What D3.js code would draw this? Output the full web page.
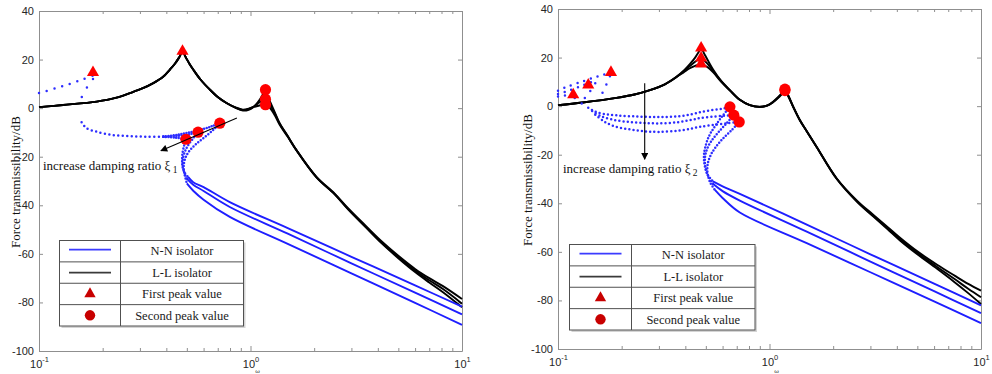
<!DOCTYPE html>
<html><head><meta charset="utf-8">
<script src="https://cdn.jsdelivr.net/npm/d3@7"></script>
<style>html,body{margin:0;padding:0;background:#fff;}svg{display:block;}</style>
</head><body>
<svg id="c" width="992" height="374"></svg>
<script>
// ---------------- DATA ----------------
const yTicks = [40,20,0,-20,-40,-60,-80,-100];
const xMajor = [0.1,1,10];
const xExp = ["-1","0","1"];
const xMinor = [0.2,0.3,0.4,0.5,0.6,0.7,0.8,0.9,2,3,4,5,6,7,8,9];
const legendLabels = ["N-N isolator","L-L isolator","First peak value","Second peak value"];
const yTitle = "Force transmissibility/dB";
const xTitle = "ω";

// Left panel (varying ξ1) — L-L isolator (black)
const leftBlackA = [[0.1,0.4],[0.13,1.3],[0.1875,2.7],[0.23,4.2],[0.269,6.2],[0.31,8.2],[0.347,10.3],[0.385,12.8],[0.416,15.9],[0.44,18.4],[0.46,20.9],[0.477,23.2],[0.495,20.8],[0.515,18.2],[0.536,15.9],[0.58,11.8],[0.643,7.6],[0.7,4.6],[0.77,2.1],[0.85,0.1],[0.92,-1.0],[0.98,-0.7],[1.03,0.4],[1.08,2.3],[1.13,4.8],[1.165,7.2],[1.177,7.6],[1.2,5.5],[1.233,3.0],[1.3,-1.5],[1.374,-6.2],[1.5,-11.5],[1.65,-17.3],[2.05,-28.5],[2.5,-35.5],[2.9,-41.8],[3.5,-49.0],[4.15,-55.5],[5,-61.8],[6,-67.5],[7,-71.8],[8.13,-75.8],[10,-82.0]];
const leftBlackB = [[0.1,0.4],[0.13,1.3],[0.1875,2.7],[0.23,4.2],[0.269,6.2],[0.31,8.2],[0.347,10.3],[0.385,12.8],[0.416,15.9],[0.44,18.4],[0.46,20.9],[0.477,23.2],[0.495,20.8],[0.515,18.2],[0.536,15.9],[0.58,11.8],[0.643,7.6],[0.7,4.6],[0.77,2.1],[0.85,0.2],[0.92,-0.8],[0.98,-0.4],[1.03,0.5],[1.08,1.8],[1.13,3.0],[1.177,3.7],[1.2,3.0],[1.233,1.6],[1.3,-2.0],[1.374,-6.4],[1.5,-11.6],[1.65,-17.3],[2.05,-28.4],[2.5,-35.4],[2.9,-41.6],[3.5,-48.8],[4.15,-55.2],[5,-61.4],[6,-66.9],[7,-70.9],[8.13,-74.5],[10,-80.5]];
const leftBlackC = [[0.1,0.4],[0.13,1.3],[0.1875,2.7],[0.23,4.2],[0.269,6.2],[0.31,8.2],[0.347,10.3],[0.385,12.8],[0.416,15.9],[0.44,18.4],[0.46,20.9],[0.477,23.2],[0.495,20.8],[0.515,18.2],[0.536,15.9],[0.58,11.8],[0.643,7.6],[0.7,4.6],[0.77,2.1],[0.85,0.3],[0.92,-0.6],[0.98,-0.2],[1.03,0.4],[1.08,0.9],[1.13,1.3],[1.177,1.4],[1.2,1.1],[1.233,0.2],[1.3,-2.8],[1.374,-6.8],[1.5,-11.8],[1.65,-17.4],[2.05,-28.3],[2.5,-35.2],[2.9,-41.3],[3.5,-48.4],[4.15,-54.7],[5,-60.8],[6,-66.2],[7,-70.0],[8.13,-73.3],[10,-78.6]];
// Left panel — N-N isolator (blue)
const leftBlueUpper = [[0.1,6.2],[0.12,8.2],[0.14,10.0],[0.16,11.8],[0.18,13.4]];
const leftBlueJump = [[0.18,12.0],[0.169,8.7],[0.159,4.4]];
const leftBlueLower = [[0.159,-5.8],[0.168,-8.3],[0.1875,-9.7],[0.224,-11.1],[0.269,-11.5],[0.323,-11.8],[0.387,-11.8]];
const leftBlueRise1 = [[0.387,-11.8],[0.44,-12.1],[0.495,-12.8]];
const leftBlueRise2 = [[0.387,-11.8],[0.45,-11.4],[0.51,-10.8],[0.565,-9.9]];
const leftBlueRise3 = [[0.387,-11.7],[0.45,-11.0],[0.52,-9.9],[0.6,-8.5],[0.66,-7.4],[0.716,-6.2]];
const leftBlueReturn1 = [[0.495,-12.8],[0.485,-15.5],[0.477,-18.5],[0.475,-21.5],[0.478,-24.5],[0.49,-26.8],[0.507,-28.3]];
const leftBlueReturn2 = [[0.565,-9.9],[0.535,-12.5],[0.505,-15.5],[0.487,-18.5],[0.478,-21.5],[0.48,-24.5],[0.488,-27.0],[0.5,-29.0]];
const leftBlueReturn3 = [[0.716,-6.2],[0.67,-8.8],[0.61,-11.8],[0.55,-15.0],[0.51,-18.0],[0.49,-21.0],[0.483,-24.0],[0.487,-27.0],[0.5,-31.0]];
const leftBlueTail1 = [[0.507,-28.3],[0.536,-30.5],[0.6,-32.5],[0.798,-38.7],[1.5,-49.4],[3,-61.2],[6,-73.0],[10,-81.7]];
const leftBlueTail2 = [[0.5,-29.0],[0.536,-31.5],[0.6,-34.1],[0.798,-40.7],[1.5,-51.7],[3,-63.9],[6,-76.0],[10,-84.9]];
const leftBlueTail3 = [[0.5,-31.0],[0.536,-34.0],[0.6,-37.7],[0.798,-44.8],[1.5,-55.9],[3,-68.0],[6,-80.2],[10,-89.2]];
const leftFirstPeaks = [[0.18,14.7],[0.477,23.4]];
const leftSecondPeaks = [[0.495,-12.8],[0.565,-9.9],[0.716,-6.2],[1.177,7.6],[1.177,3.7],[1.177,1.4]];
const leftArrow = [[0.862,-4.1],[0.377,-17.5]];
const leftNote = {f:0.1044, db:-25.3, text:"increase damping ratio ξ", sub:"1"};

// Right panel (varying ξ2) — L-L isolator (black)
const rightBlackA = [[0.1,0.4],[0.131,1.5],[0.189,3.4],[0.23,4.8],[0.272,6.6],[0.32,9.0],[0.363,12.1],[0.395,14.8],[0.42,17.3],[0.445,20.0],[0.462,22.2],[0.475,23.9],[0.49,21.8],[0.51,19.0],[0.542,15.0],[0.59,10.5],[0.65,6.6],[0.724,2.6],[0.807,0.4],[0.9,-0.4],[0.98,0.3],[1.04,1.8],[1.1,3.8],[1.15,5.6],[1.183,6.9],[1.226,4.5],[1.3,-0.5],[1.393,-5.8],[1.5,-10.3],[1.671,-16.8],[2.08,-30.0],[2.6,-39.5],[3.1,-45.5],[3.6,-50.5],[4.14,-55.3],[5,-61.0],[6.2,-67.0],[7.5,-72.5],[8.7,-77.0],[10,-81.5]];
const rightBlackB = [[0.1,0.4],[0.131,1.5],[0.189,3.4],[0.23,4.8],[0.272,6.6],[0.32,9.0],[0.363,12.0],[0.395,14.5],[0.42,16.5],[0.445,18.3],[0.462,19.2],[0.475,19.6],[0.49,18.9],[0.51,17.4],[0.542,14.4],[0.59,10.3],[0.65,6.5],[0.724,2.6],[0.807,0.4],[0.9,-0.3],[0.98,0.3],[1.04,1.7],[1.1,3.6],[1.15,5.4],[1.183,6.6],[1.226,4.3],[1.3,-0.6],[1.393,-5.8],[1.5,-10.3],[1.671,-16.8],[2.08,-29.9],[2.6,-39.3],[3.1,-45.2],[3.6,-50.1],[4.14,-54.8],[5,-60.4],[6.2,-66.2],[7.5,-71.2],[8.7,-75.2],[10,-78.7]];
const rightBlackC = [[0.1,0.4],[0.131,1.5],[0.189,3.4],[0.23,4.8],[0.272,6.6],[0.32,9.0],[0.363,11.9],[0.395,14.1],[0.42,15.6],[0.445,16.6],[0.462,17.1],[0.475,17.2],[0.49,16.9],[0.51,16.0],[0.542,13.9],[0.59,10.1],[0.65,6.4],[0.724,2.6],[0.807,0.4],[0.9,-0.2],[0.98,0.3],[1.04,1.6],[1.1,3.4],[1.15,5.2],[1.183,6.3],[1.226,4.1],[1.3,-0.7],[1.393,-5.9],[1.5,-10.3],[1.671,-16.8],[2.08,-29.8],[2.6,-39.0],[3.1,-44.8],[3.6,-49.6],[4.14,-54.2],[5,-59.8],[6.2,-65.3],[7.5,-69.8],[8.7,-73.2],[10,-76.0]];
// Right panel — N-N isolator (blue)
const rightBlueUpperA = [[0.1,6.3],[0.108,7.7],[0.129,10.0],[0.152,12.1],[0.168,13.2],[0.178,13.8]];
const rightBlueUpperB = [[0.1,5.0],[0.108,5.9],[0.129,8.3],[0.152,10.8]];
const rightBlueUpperC = [[0.1,4.0],[0.108,4.4],[0.118,4.6]];
const rightBlueJumpA = [[0.176,12.3],[0.169,8.7],[0.159,3.9]];
const rightBlueJumpB = [[0.15,9.4],[0.14,5.4],[0.129,1.8]];
const rightBlueJumpC = [[0.12,3.4],[0.129,1.2],[0.139,-0.7]];
const rightBlueLowerA = [[0.139,-0.7],[0.15,-2.2],[0.165,-3.2],[0.19,-3.8],[0.24,-4.3],[0.3,-4.5],[0.37,-4.2],[0.43,-3.3],[0.47,-2.5],[0.53,-1.7],[0.6,-1.0],[0.65,-0.3]];
const rightBlueLowerB = [[0.145,-2.0],[0.16,-4.2],[0.18,-5.5],[0.21,-6.4],[0.25,-6.9],[0.3,-7.1],[0.37,-6.6],[0.43,-5.6],[0.47,-4.9],[0.55,-4.3],[0.62,-3.9],[0.678,-3.7]];
const rightBlueLowerC = [[0.15,-3.5],[0.165,-6.3],[0.185,-8.3],[0.22,-9.6],[0.26,-10.4],[0.3,-10.6],[0.37,-10.1],[0.43,-9.2],[0.47,-8.5],[0.55,-7.7],[0.64,-7.0],[0.719,-6.5]];
const rightBlueReturnA = [[0.65,-0.3],[0.6,-4.0],[0.555,-8.0],[0.52,-12.0],[0.5,-16.0],[0.49,-20.0],[0.493,-24.0],[0.508,-28.0],[0.54,-31.0]];
const rightBlueReturnB = [[0.678,-3.7],[0.62,-7.5],[0.57,-11.0],[0.53,-14.5],[0.505,-18.0],[0.495,-21.5],[0.498,-25.0],[0.512,-28.5],[0.54,-32.0]];
const rightBlueReturnC = [[0.719,-6.5],[0.66,-10.0],[0.6,-13.5],[0.555,-17.0],[0.525,-20.5],[0.51,-24.0],[0.51,-28.0],[0.525,-31.5],[0.552,-34.5]];
const rightBlueTailA = [[0.54,-31.0],[0.6,-33.0],[0.724,-36.1],[1.5,-48.8],[3,-61.0],[6,-73.1],[10,-82.0]];
const rightBlueTailB = [[0.54,-32.0],[0.6,-35.0],[0.724,-38.9],[1.5,-51.7],[3,-64.0],[6,-76.2],[10,-85.2]];
const rightBlueTailC = [[0.552,-34.5],[0.6,-37.8],[0.724,-43.8],[1.5,-56.4],[3,-68.4],[6,-80.4],[10,-89.3]];
const rightFirstPeaks = [[0.118,4.7],[0.139,8.7],[0.178,13.9],[0.475,23.9],[0.475,19.8],[0.475,17.4]];
const rightSecondPeaks = [[0.65,-0.3],[0.678,-3.7],[0.719,-6.5],[1.183,7.0],[1.183,6.4]];
const rightArrow = [[0.257,9.4],[0.257,-21.9]];
const rightNote = {f:0.1056, db:-27.6, text:"increase damping ratio ξ", sub:"2"};

// ---------------- DRAWING ----------------
const svg = d3.select("#c");
const BLUE = "#1e1eff", DOT = "#2d2dff", BLACK = "#000", RED = "#ff0000";
const SANS = "'Liberation Sans', Arial, sans-serif";
const SERIF = "'Liberation Serif', 'Times New Roman', serif";

const defs = svg.append("defs");
defs.append("marker").attr("id","ah").attr("viewBox","0 0 10 10").attr("refX",9).attr("refY",5)
  .attr("markerWidth",9).attr("markerHeight",7).attr("markerUnits","userSpaceOnUse").attr("orient","auto")
  .append("path").attr("d","M0,0L10,5L0,10Z").attr("fill","#000");

function panel(P) {
  const x = d3.scaleLog().domain([0.1,10]).range([P.x0,P.x1]);
  const y = d3.scaleLinear().domain([-100,40]).range([P.yb,P.yt]);
  const g = svg.append("g");
  const axisCol = "#8f8f8f";
  const style = sel => {
    sel.attr("font-family", SANS).attr("font-size", 11);
    sel.selectAll("path.domain").attr("stroke", axisCol);
    sel.selectAll(".tick line").attr("stroke", axisCol);
    sel.selectAll(".tick text").attr("fill", "#262626");
  };
  g.append("g").attr("transform",`translate(${P.x0},0)`)
    .call(d3.axisLeft(y).tickValues(yTicks).tickSize(-4).tickSizeOuter(0).tickPadding(5).tickFormat(d=>d)).call(style);
  g.append("g").attr("transform",`translate(${P.x1},0)`)
    .call(d3.axisRight(y).tickValues(yTicks).tickSize(-4).tickSizeOuter(0).tickFormat("")).call(style);
  [[P.yb, d3.axisBottom],[P.yt, d3.axisTop]].forEach(([pos, fn]) => {
    g.append("g").attr("transform",`translate(0,${pos})`)
      .call(fn(x).tickValues(xMajor).tickSize(-5).tickSizeOuter(0).tickFormat("")).call(style);
    g.append("g").attr("transform",`translate(0,${pos})`)
      .call(fn(x).tickValues(xMinor).tickSize(-3).tickSizeOuter(0).tickFormat("")).call(style)
      .select("path.domain").remove();
  });
  xMajor.forEach((v,i) => {
    const t = g.append("text").attr("x", x(v)+0.5).attr("y", P.yb+17).attr("text-anchor","middle")
      .attr("font-family", SANS).attr("font-size", 11).attr("fill","#262626").text("10");
    t.append("tspan").attr("dy",-6).attr("font-size",7.5).text(xExp[i]);
  });
  g.append("text").attr("transform",`translate(${P.ytx},${(P.yt+P.yb)/2+1}) rotate(-90)`)
    .attr("text-anchor","middle").attr("font-family",SERIF).attr("font-size",13).attr("fill","#111").text(yTitle);
  g.append("text").attr("x", x(1)+7).attr("y", 373).attr("text-anchor","middle")
    .attr("font-family",SERIF).attr("font-size",7).attr("fill","#333").text(xTitle);

  const line = d3.line().x(d=>x(d[0])).y(d=>y(d[1])).curve(d3.curveCatmullRom.alpha(0.5));
  const curve = (pts, color, w, gap) => {
    const p = g.append("path").attr("d", line(pts)).attr("fill","none").attr("stroke",color).attr("stroke-width",w);
    if (gap) p.attr("stroke-dasharray",`0 ${gap}`).attr("stroke-linecap","round");
    else p.attr("stroke-linejoin","round");
  };
  P.black.forEach(c => curve(c, BLACK, 1.9));
  P.blueDots.forEach(([c,gap]) => curve(c, DOT, 2.5, gap));
  P.blueLines.forEach(c => curve(c, BLUE, 1.9));

  const tri = d3.symbol().type(d3.symbolTriangle).size(64);
  P.first.forEach(d => g.append("path").attr("d", tri()).attr("fill",RED)
    .attr("transform",`translate(${x(d[0])},${y(d[1])})`));
  P.second.forEach(d => g.append("circle").attr("cx",x(d[0])).attr("cy",y(d[1])).attr("r",5.6).attr("fill",RED));

  g.append("line").attr("x1",x(P.arrow[0][0])).attr("y1",y(P.arrow[0][1]))
    .attr("x2",x(P.arrow[1][0])).attr("y2",y(P.arrow[1][1]))
    .attr("stroke","#000").attr("stroke-width",1.1).attr("marker-end","url(#ah)");
  const nt = g.append("text").attr("x",x(P.note.f)).attr("y",y(P.note.db))
    .attr("font-family",SERIF).attr("font-size",13).attr("fill","#111").text(P.note.text);
  nt.append("tspan").attr("dy",3).attr("font-size",9.5).text(" " + P.note.sub);

  // legend
  const L = P.legend, rowH = L.h/4;
  g.append("rect").attr("x",L.x+2).attr("y",L.y+2).attr("width",L.w).attr("height",L.h).attr("fill","#d4d4d4");
  g.append("rect").attr("x",L.x).attr("y",L.y).attr("width",L.w).attr("height",L.h).attr("fill","#fff").attr("stroke","#505050");
  for (let i=1;i<4;i++) g.append("line").attr("x1",L.x).attr("x2",L.x+L.w).attr("y1",L.y+i*rowH).attr("y2",L.y+i*rowH).attr("stroke","#505050");
  g.append("line").attr("x1",L.x+L.div).attr("x2",L.x+L.div).attr("y1",L.y).attr("y2",L.y+L.h).attr("stroke","#505050");
  const cx = L.x + (L.div + L.w)/2, mx = L.x + L.div/2;
  legendLabels.forEach((lab,i) => g.append("text").attr("x",cx).attr("y",L.y+(i+0.5)*rowH+4.3)
    .attr("text-anchor","middle").attr("font-family",SERIF).attr("font-size",12.5).attr("fill","#1a1a1a").text(lab));
  g.append("line").attr("x1",mx-21).attr("x2",mx+21).attr("y1",L.y+0.5*rowH-1.5).attr("y2",L.y+0.5*rowH-1.5)
    .attr("stroke","#3b3bff").attr("stroke-width",1.8);
  g.append("line").attr("x1",mx-21).attr("x2",mx+21).attr("y1",L.y+1.5*rowH).attr("y2",L.y+1.5*rowH)
    .attr("stroke","#3a3a3a").attr("stroke-width",1.8);
  g.append("path").attr("d", d3.symbol().type(d3.symbolTriangle).size(56)()).attr("fill","#c80000")
    .attr("transform",`translate(${mx},${L.y+2.5*rowH})`);
  g.append("circle").attr("cx",mx).attr("cy",L.y+3.5*rowH).attr("r",5.2).attr("fill","#c80000");
}

panel({
  x0:39, x1:462, yt:11, yb:351, ytx:20,
  black:[leftBlackA,leftBlackB,leftBlackC],
  blueDots:[[leftBlueUpper,8],[leftBlueJump,10.5],[leftBlueLower,4.5],
    [leftBlueRise1,2.6],[leftBlueRise2,2.6],[leftBlueRise3,2.6],
    [leftBlueReturn1,3.2],[leftBlueReturn2,3.2],[leftBlueReturn3,3.2]],
  blueLines:[leftBlueTail1,leftBlueTail2,leftBlueTail3],
  first:leftFirstPeaks, second:leftSecondPeaks, arrow:leftArrow, note:leftNote,
  legend:{x:59.5, y:240.5, w:184, h:85.5, div:61}
});
panel({
  x0:558, x1:981, yt:9, yb:349, ytx:532,
  black:[rightBlackA,rightBlackB,rightBlackC],
  blueDots:[[rightBlueUpperA,7],[rightBlueUpperB,7],[rightBlueUpperC,7],
    [rightBlueJumpA,9],[rightBlueJumpB,9],[rightBlueJumpC,9],
    [rightBlueLowerA,4.2],[rightBlueLowerB,4.2],[rightBlueLowerC,4.2],
    [rightBlueReturnA,3.2],[rightBlueReturnB,3.2],[rightBlueReturnC,3.2]],
  blueLines:[rightBlueTailA,rightBlueTailB,rightBlueTailC],
  first:rightFirstPeaks, second:rightSecondPeaks, arrow:rightArrow, note:rightNote,
  legend:{x:569.5, y:244.5, w:185.5, h:85.5, div:62}
});
</script>
</body></html>
